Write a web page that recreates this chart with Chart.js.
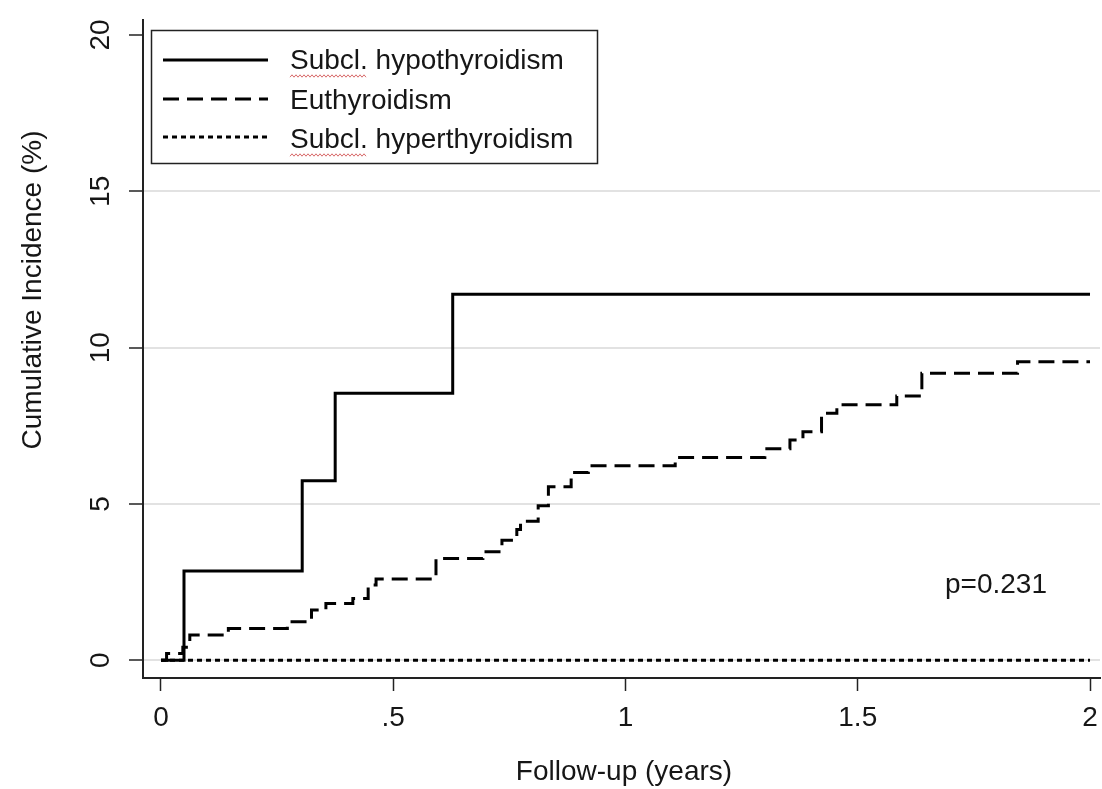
<!DOCTYPE html>
<html><head><meta charset="utf-8">
<script src="https://cdn.jsdelivr.net/npm/chart.js@4.4.0/dist/chart.umd.min.js"></script>
<style>html,body{margin:0;padding:0;background:#fff;}#wrap{width:1102px;height:789px;position:relative;}</style>
</head><body><div id="wrap"><canvas id="c"></canvas></div>
<script>
const seriesNames = ['Subcl. hypothyroidism', 'Euthyroidism', 'Subcl. hyperthyroidism'];
const hypoTimes  = [0, 0.0495, 0.304, 0.375, 0.628, 2.0];
const hypoValues = [0, 2.86, 5.74, 8.54, 11.71, 11.71];
const euTimes  = [0, 0.012, 0.047, 0.062, 0.145, 0.272, 0.324, 0.355, 0.413, 0.446, 0.463, 0.592, 0.693, 0.734, 0.766, 0.774, 0.812, 0.834, 0.883, 0.920, 1.107, 1.300, 1.354, 1.382, 1.422, 1.455, 1.584, 1.638, 1.844, 2.0];
const euValues = [0, 0.22, 0.42, 0.81, 1.02, 1.23, 1.61, 1.82, 1.98, 2.41, 2.60, 3.26, 3.47, 3.84, 4.18, 4.45, 4.94, 5.55, 6.01, 6.22, 6.49, 6.77, 7.05, 7.31, 7.90, 8.17, 8.45, 9.18, 9.55, 9.55];
const hyperTimes  = [0, 2.0];
const hyperValues = [0, 0];
const xTickValues = [0, 0.5, 1, 1.5, 2];
const xTickLabels = ['0', '.5', '1', '1.5', '2'];
const yTickValues = [0, 5, 10, 15, 20];
const yTickLabels = ['0', '5', '10', '15', '20'];
const gridValues  = [0, 5, 10, 15];
const xTitle = 'Follow-up (years)';
const yTitle = 'Cumulative Incidence (%)';
const pText = 'p=0.231';

const FONT = '"Liberation Sans", Arial, sans-serif';
const TXT = '#161616';
const styles = [
  {dash: [], width: 3},
  {dash: [16, 8], width: 3},
  {dash: [5, 4], width: 3}
];
function pts(t, v) { return t.map((x, i) => ({x: x, y: v[i]})); }

const overlay = {
  id: 'overlay',
  afterDraw(chart) {
    const ctx = chart.ctx;
    const ys = chart.scales.y;
    ctx.save();
    ctx.fillStyle = TXT;
    ctx.font = '28px ' + FONT;
    yTickValues.forEach((v, i) => {
      const py = ys.getPixelForValue(v);
      ctx.save();
      ctx.translate(101, py);
      ctx.rotate(-Math.PI / 2);
      ctx.textAlign = 'center';
      ctx.textBaseline = 'middle';
      ctx.fillText(yTickLabels[i], 0, 0);
      ctx.restore();
    });
    ctx.save();
    ctx.translate(33, 290);
    ctx.rotate(-Math.PI / 2);
    ctx.textAlign = 'center';
    ctx.textBaseline = 'middle';
    ctx.fillText(yTitle, 0, 0);
    ctx.restore();
    ctx.textAlign = 'center';
    ctx.textBaseline = 'middle';
    ctx.fillText(xTitle, 624, 772);
    ctx.textAlign = 'left';
    ctx.textBaseline = 'alphabetic';
    ctx.fillText(pText, 945, 593);
    ctx.strokeStyle = '#222';
    ctx.lineWidth = 1.5;
    ctx.setLineDash([]);
    ctx.fillStyle = '#fff';
    ctx.fillRect(151, 30, 446, 133);
    ctx.strokeRect(151.5, 30.5, 446, 133);
    const rows = [60, 99, 137];
    const base = [69, 109, 148];
    rows.forEach((ry, i) => {
      ctx.strokeStyle = '#000';
      ctx.lineWidth = styles[i].width;
      ctx.setLineDash(styles[i].dash);
      ctx.beginPath();
      ctx.moveTo(163, ry);
      ctx.lineTo(268, ry);
      ctx.stroke();
      ctx.setLineDash([]);
      ctx.fillStyle = TXT;
      ctx.textAlign = 'left';
      ctx.textBaseline = 'alphabetic';
      ctx.fillText(seriesNames[i], 290, base[i]);
    });
    ctx.strokeStyle = '#d86a6a';
    ctx.lineWidth = 1;
    [0, 2].forEach(i => {
      const y0 = base[i] + 7;
      ctx.beginPath();
      for (let x = 290, k = 0; x <= 366; x += 2, k++) {
        const yy = y0 + (k % 2 ? -1.2 : 1.2);
        if (k === 0) ctx.moveTo(x, yy); else ctx.lineTo(x, yy);
      }
      ctx.stroke();
    });
    ctx.restore();
  }
};

new Chart(document.getElementById('c'), {
  type: 'line',
  data: {
    datasets: [
      {label: seriesNames[0], data: pts(hypoTimes, hypoValues), stepped: true, borderColor: '#000', borderWidth: styles[0].width, borderDash: styles[0].dash, pointRadius: 0, fill: false},
      {label: seriesNames[1], data: pts(euTimes, euValues), stepped: true, borderColor: '#000', borderWidth: styles[1].width, borderDash: styles[1].dash, pointRadius: 0, fill: false},
      {label: seriesNames[2], data: pts(hyperTimes, hyperValues), stepped: true, borderColor: '#000', borderWidth: styles[2].width, borderDash: styles[2].dash, pointRadius: 0, fill: false}
    ]
  },
  options: {
    responsive: true,
    maintainAspectRatio: false,
    animation: false,
    events: [],
    layout: {padding: {left: 0, right: 2, top: 20, bottom: 0}},
    plugins: {legend: {display: false}, tooltip: {enabled: false}, title: {display: false}},
    scales: {
      x: {
        type: 'linear',
        min: -0.03875, max: 2.0215,
        afterBuildTicks(s) { s.ticks = xTickValues.map(v => ({value: v})); },
        afterFit(s) { s.height = 111; s.paddingLeft = 0; s.paddingRight = 0; },
        ticks: {
          autoSkip: false, maxRotation: 0, minRotation: 0,
          padding: 10,
          color: TXT,
          font: {size: 28, family: FONT},
          callback(v) { const i = xTickValues.indexOf(v); return i >= 0 ? xTickLabels[i] : ''; }
        },
        grid: {drawOnChartArea: false, drawTicks: true, tickLength: 13, tickColor: '#222', tickWidth: 1.5},
        border: {display: true, color: '#222', width: 2}
      },
      y: {
        type: 'linear',
        min: -0.566, max: 20.48,
        afterBuildTicks(s) { s.ticks = yTickValues.map(v => ({value: v})); },
        afterFit(s) { s.width = 143; s.paddingTop = 0; s.paddingBottom = 0; },
        ticks: {display: false},
        grid: {
          drawOnChartArea: true, drawTicks: true, tickLength: 14,
          color(c) { return (c.tick && gridValues.indexOf(c.tick.value) >= 0) ? '#e2e2e2' : 'rgba(0,0,0,0)'; },
          lineWidth: 2,
          tickColor: '#222', tickWidth: 1.5
        },
        border: {display: true, color: '#222', width: 2}
      }
    }
  },
  plugins: [overlay]
});
</script>
</body></html>
